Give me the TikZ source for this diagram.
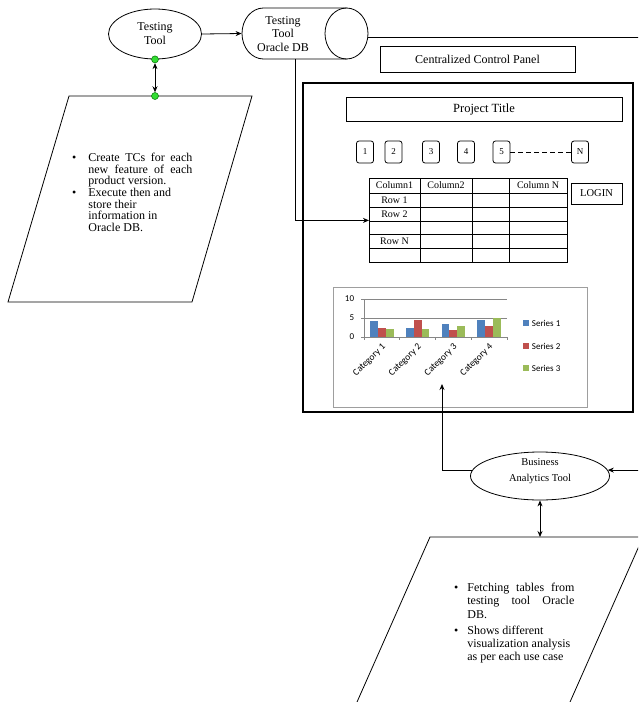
\documentclass[tikz,border=0pt]{standalone}
\usepackage{fontspec}
\setmainfont{Liberation Serif}
\newfontfamily\chartfont{Carlito}
\usetikzlibrary{shapes.geometric,arrows.meta,calc}
\definecolor{sA}{HTML}{4F81BD}
\definecolor{sB}{HTML}{C0504D}
\definecolor{sC}{HTML}{9BBB59}
\definecolor{dotg}{HTML}{33DD33}
\definecolor{gridc}{HTML}{868686}
\begin{document}
\begin{tikzpicture}[x=1pt,y=-1pt,line width=0.8pt,
  arr/.style={-{Stealth[length=6pt,width=5pt]}},
  darr/.style={{Stealth[length=6pt,width=5pt]}-{Stealth[length=6pt,width=5pt]}},
  ell/.style={draw,ellipse,inner sep=0pt,align=center},
  box/.style={draw,rectangle,inner sep=0pt},
  numbox/.style={draw,rounded corners=2.5pt,minimum width=17pt,minimum height=22pt,inner sep=0pt,font=\fontsize{9}{10}\selectfont},
  dot/.style={circle,draw=green!45!black,fill=dotg,minimum size=7pt,inner sep=0pt,line width=0.5pt},
  celltext/.style={font=\fontsize{10}{11}\selectfont,inner sep=0pt},
  chartlbl/.style={font=\chartfont\fontsize{9}{10}\selectfont,inner sep=0.5pt},
  catlbl/.style={font=\chartfont\fontsize{9.5}{10}\selectfont,inner sep=0.5pt},
  bullettext/.style={anchor=north west,inner sep=0pt,align=left}
]
\useasboundingbox (0,0) rectangle (638,702);
\clip (0,0) rectangle (638,702);
\fill[white] (0,0) rectangle (638,702);

% ---- Testing tool ----
\node[ell,minimum width=93pt,minimum height=50pt,font=\fontsize{12}{14}\selectfont] (tt) at (155,34) {Testing\\Tool};

% ---- Cylinder (Testing Tool Oracle DB) ----
\node[minimum width=126pt,minimum height=51pt,inner sep=0pt] (db) at (305,33.5) {};
\draw (346.5,8) -- (263.5,8) arc[start angle=270,end angle=90,x radius=21.5,y radius=25.5] -- (346.5,59);
\draw (346.5,33.5) ellipse [x radius=21.5, y radius=25.5];
\node[align=center,font=\fontsize{12}{13.5}\selectfont,inner sep=0pt] (dbt) at (283,34) {Testing\\Tool\\Oracle DB};
\coordinate (dbs) at (295,59);
\coordinate (rout) at (640,37);
\coordinate (rin) at (640,471);

% ---- Top parallelogram ----
\draw (69,96) -- (252,96) -- (192,302) -- (8,302) -- cycle;
\coordinate (p1top) at (155,96);
\node[bullettext,font=\fontsize{12}{11.7}\selectfont] (t1) at (88,152.5) {\llap{\textbullet\hspace{12pt}}\makebox[104pt][s]{Create TCs for each}\\
\makebox[104pt][s]{new feature of each}\\
product version.\\
\llap{\textbullet\hspace{12pt}}Execute then and\\
store their\\
information in\\
Oracle DB.};

% ---- Control panel ----
\node[box,minimum width=195pt,minimum height=26pt,font=\fontsize{12}{14}\selectfont] (ccp) at (477.5,59) {Centralized Control Panel};
\node[box,line width=1.1pt,minimum width=330pt,minimum height=329pt] (panel) at (468,247.5) {};
\node[box,minimum width=276pt,minimum height=24pt,font=\fontsize{12.5}{14}\selectfont] (ptitle) at (484,109) {Project Title};

\node[numbox] (n1) at (365,152) {1};
\node[numbox] (n2) at (393.5,152) {2};
\node[numbox] (n3) at (431,152) {3};
\node[numbox] (n4) at (466,152) {4};
\node[numbox] (n5) at (501.5,152) {5};
\node[numbox] (nN) at (580,152) {N};
\draw[dash pattern=on 5pt off 3pt] (n5.east) -- (nN.west);

% ---- Table ----
\node[box,minimum width=198pt,minimum height=84pt,anchor=north west] (tbl) at (369,178) {};
\foreach \y in {193,207,221,234,248} \draw (369,\y) -- (567,\y);
\foreach \x in {420,472,509} \draw (\x,178) -- (\x,262);
\node[celltext] (c1) at (394.5,185.5) {Column1};
\node[celltext] (c2) at (446,185.5) {Column2};
\node[celltext] (cN) at (538,185.5) {Column N};
\node[celltext] (r1) at (394.5,200) {Row 1};
\node[celltext] (r2) at (394.5,214) {Row 2};
\node[celltext] (rN) at (394.5,241) {Row N};
\node[box,minimum width=51pt,minimum height=21pt,font=\fontsize{10.5}{12}\selectfont] (login) at (596.5,193.5) {LOGIN};

% ---- Chart ----
\node[draw=gridc!80,minimum width=254pt,minimum height=120pt,inner sep=0pt] (chart) at (460,347) {};
\draw[gridc,line width=0.6pt] (364,299) -- (507,299);
\draw[gridc,line width=0.6pt] (364,318) -- (507,318);
\draw[gridc,line width=0.6pt] (361,299) -- (364,299) (361,318) -- (364,318) (361,337) -- (364,337);
\draw[gridc,line width=0.6pt] (364,299) -- (364,337) -- (507,337);
\foreach \i in {0,...,4} \draw[gridc,line width=0.6pt] ({364+35.75*\i},337) -- ++(0,3);
\foreach \i/\a/\b/\c in {0/4.3/2.4/2, 1/2.5/4.4/2, 2/3.5/1.8/3, 3/4.5/2.8/5} {
  \fill[sA] ({364+35.75*\i+6},337) rectangle ++(7.9,{-\a*3.8});
  \fill[sB] ({364+35.75*\i+13.9},337) rectangle ++(7.9,{-\b*3.8});
  \fill[sC] ({364+35.75*\i+21.8},337) rectangle ++(7.9,{-\c*3.8});
}
\node[chartlbl,anchor=east] (y10) at (355,299) {10};
\node[chartlbl,anchor=east] (y5) at (355,318) {5};
\node[chartlbl,anchor=east] (y0) at (355,337) {0};
\foreach \i in {1,...,4} \node[catlbl,rotate=45,anchor=east] (cat\i) at ({364+35.75*\i-15},345) {Category \i};
\foreach \s/\c/\y in {1/sA/323,2/sB/346,3/sC/368} {
  \fill[\c] (523,\y-3) rectangle ++(6,6);
  \node[chartlbl,anchor=west] (leg\s) at (531,\y) {Series \s};
}
\coordinate (ca) at (442,384);

% ---- Business analytics ----
\node[ell,minimum width=139pt,minimum height=48pt] (ba) at (540,476) {};
\node[align=center,inner sep=0pt,font=\fontsize{10.5}{16}\selectfont] (bat) at (540,471.5) {Business\\Analytics Tool};
\coordinate (p2top) at (540,537);
\draw (430,537) -- (643,537) -- (565.6,712) -- (352.6,712) -- cycle;
\node[bullettext,font=\fontsize{12}{13.4}\selectfont] (t2) at (467,582.5) {\llap{\textbullet\hspace{9pt}}\makebox[107pt][s]{Fetching tables from}\\
\makebox[107pt][s]{testing tool Oracle}\\
DB.\\[2.6pt]
\llap{\textbullet\hspace{9pt}}Shows different\\
visualization analysis\\
as per each use case};

% ---- Connectors ----
\draw[arr] (tt.east) -- (db.west);
\node[dot] (g1) at (tt.south) {};
\node[dot] (g2) at (p1top) {};
\draw[darr] (g1) -- (g2);
\draw (db.east |- rout) -- (rout);
\draw[arr] (dbs) |- (tbl.west);
\draw[arr] (ba.175) -| (ca);
\draw[arr] (ba.5 -| rin) -- (ba.5);
\draw[darr] (ba.south) -- (p2top);
\end{tikzpicture}
\end{document}
